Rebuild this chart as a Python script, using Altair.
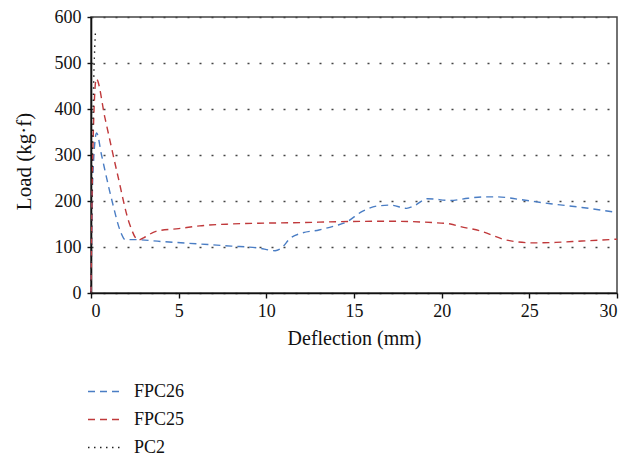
import altair as alt
import pandas as pd

# FPC26 series
fpc26_x = [0, 0.1, 0.32, 0.6, 1.2, 1.7, 1.95, 2.5, 4, 6, 8, 9.5, 10.5, 10.8, 11.4, 12, 13, 14, 14.5,
           15.5, 16.3, 17.1, 18.0, 18.4, 19.2, 20.5, 21.5, 22.5, 23.2, 24.5, 26.2, 28, 30]
fpc26_y = [0, 250, 348, 300, 200, 132, 116, 116, 112, 107, 102, 98, 92, 96, 120, 130, 137, 147, 153,
           178, 189, 191, 184, 189, 205, 201, 206, 209, 209, 203, 194, 186, 175]

# FPC25 series
fpc25_x = [0, 0.1, 0.3, 0.8, 1.5, 2.2, 2.7, 3.0, 3.7, 5, 6.2, 8, 10, 12, 14, 17, 19.5, 20.5, 21,
           22.2, 23.7, 25.2, 26.5, 28, 30]
fpc25_y = [0, 300, 466, 380, 260, 150, 115, 120, 134, 140, 146, 150, 152, 153, 155, 156, 153, 150, 145,
           135, 115, 109, 110, 113, 117]

# PC2 series
pc2_x = [0, 0.1, 0.25]
pc2_y = [0, 350, 565]

series_names = ["FPC26", "FPC25", "PC2"]
series_colors = ["#4a7dc4", "#c0393b", "#222222"]
series_dash = [[7, 5], [7, 5], [1.5, 4.5]]

x_ticks = [0, 5, 10, 15, 20, 25, 30]
y_ticks = [0, 100, 200, 300, 400, 500, 600]

rows = []
for name, xs, ys in [("FPC26", fpc26_x, fpc26_y), ("FPC25", fpc25_x, fpc25_y), ("PC2", pc2_x, pc2_y)]:
    for i, (a, b) in enumerate(zip(xs, ys)):
        rows.append({"series": name, "x": a, "y": b, "order": i})
df = pd.DataFrame(rows)

FONT = "Liberation Serif"

legend_cfg = dict(title=None, orient="none", legendX=-4, legendY=356,
                  direction="vertical", symbolType="stroke",
                  symbolSize=1225, symbolStrokeWidth=1.4,
                  labelFont=FONT, labelFontSize=18, labelColor="#111",
                  labelOffset=10, rowPadding=0)

chart = alt.Chart(df).mark_line(strokeWidth=1.4, interpolate="monotone").encode(
    x=alt.X("x:Q", scale=alt.Scale(domain=[0, 30], nice=False),
            axis=alt.Axis(values=x_ticks, title="Deflection (mm)", grid=False,
                          tickSize=5, labelPadding=4, titlePadding=8)),
    y=alt.Y("y:Q", scale=alt.Scale(domain=[0, 600], nice=False),
            axis=alt.Axis(values=y_ticks, title="Load (kg·f)", grid=True,
                          tickSize=4, labelPadding=6, titlePadding=20, titleY=144,
                          titleFontSize=21,
                          gridDash=[2, 10], gridColor="#444", gridWidth=1.6)),
    color=alt.Color("series:N",
                    scale=alt.Scale(domain=series_names, range=series_colors),
                    legend=alt.Legend(**legend_cfg)),
    strokeDash=alt.StrokeDash("series:N",
                              scale=alt.Scale(domain=series_names, range=series_dash),
                              legend=alt.Legend(**legend_cfg)),
    order="order:Q",
).properties(
    width=526, height=276,
    autosize=alt.AutoSizeParams(type="none"),
    padding={"left": 83, "top": 9, "right": 13, "bottom": 166},
).configure_view(
    stroke="#444", strokeWidth=1.5
).configure_axis(
    domainColor="#111", domainWidth=1.6, tickColor="#111", tickWidth=1.4,
    labelFont=FONT, labelFontSize=18, labelColor="#111",
    titleFont=FONT, titleFontSize=20, titleFontWeight="normal", titleColor="#111",
)

chart.save("out.html", embed_options={"renderer": "svg", "actions": False})
